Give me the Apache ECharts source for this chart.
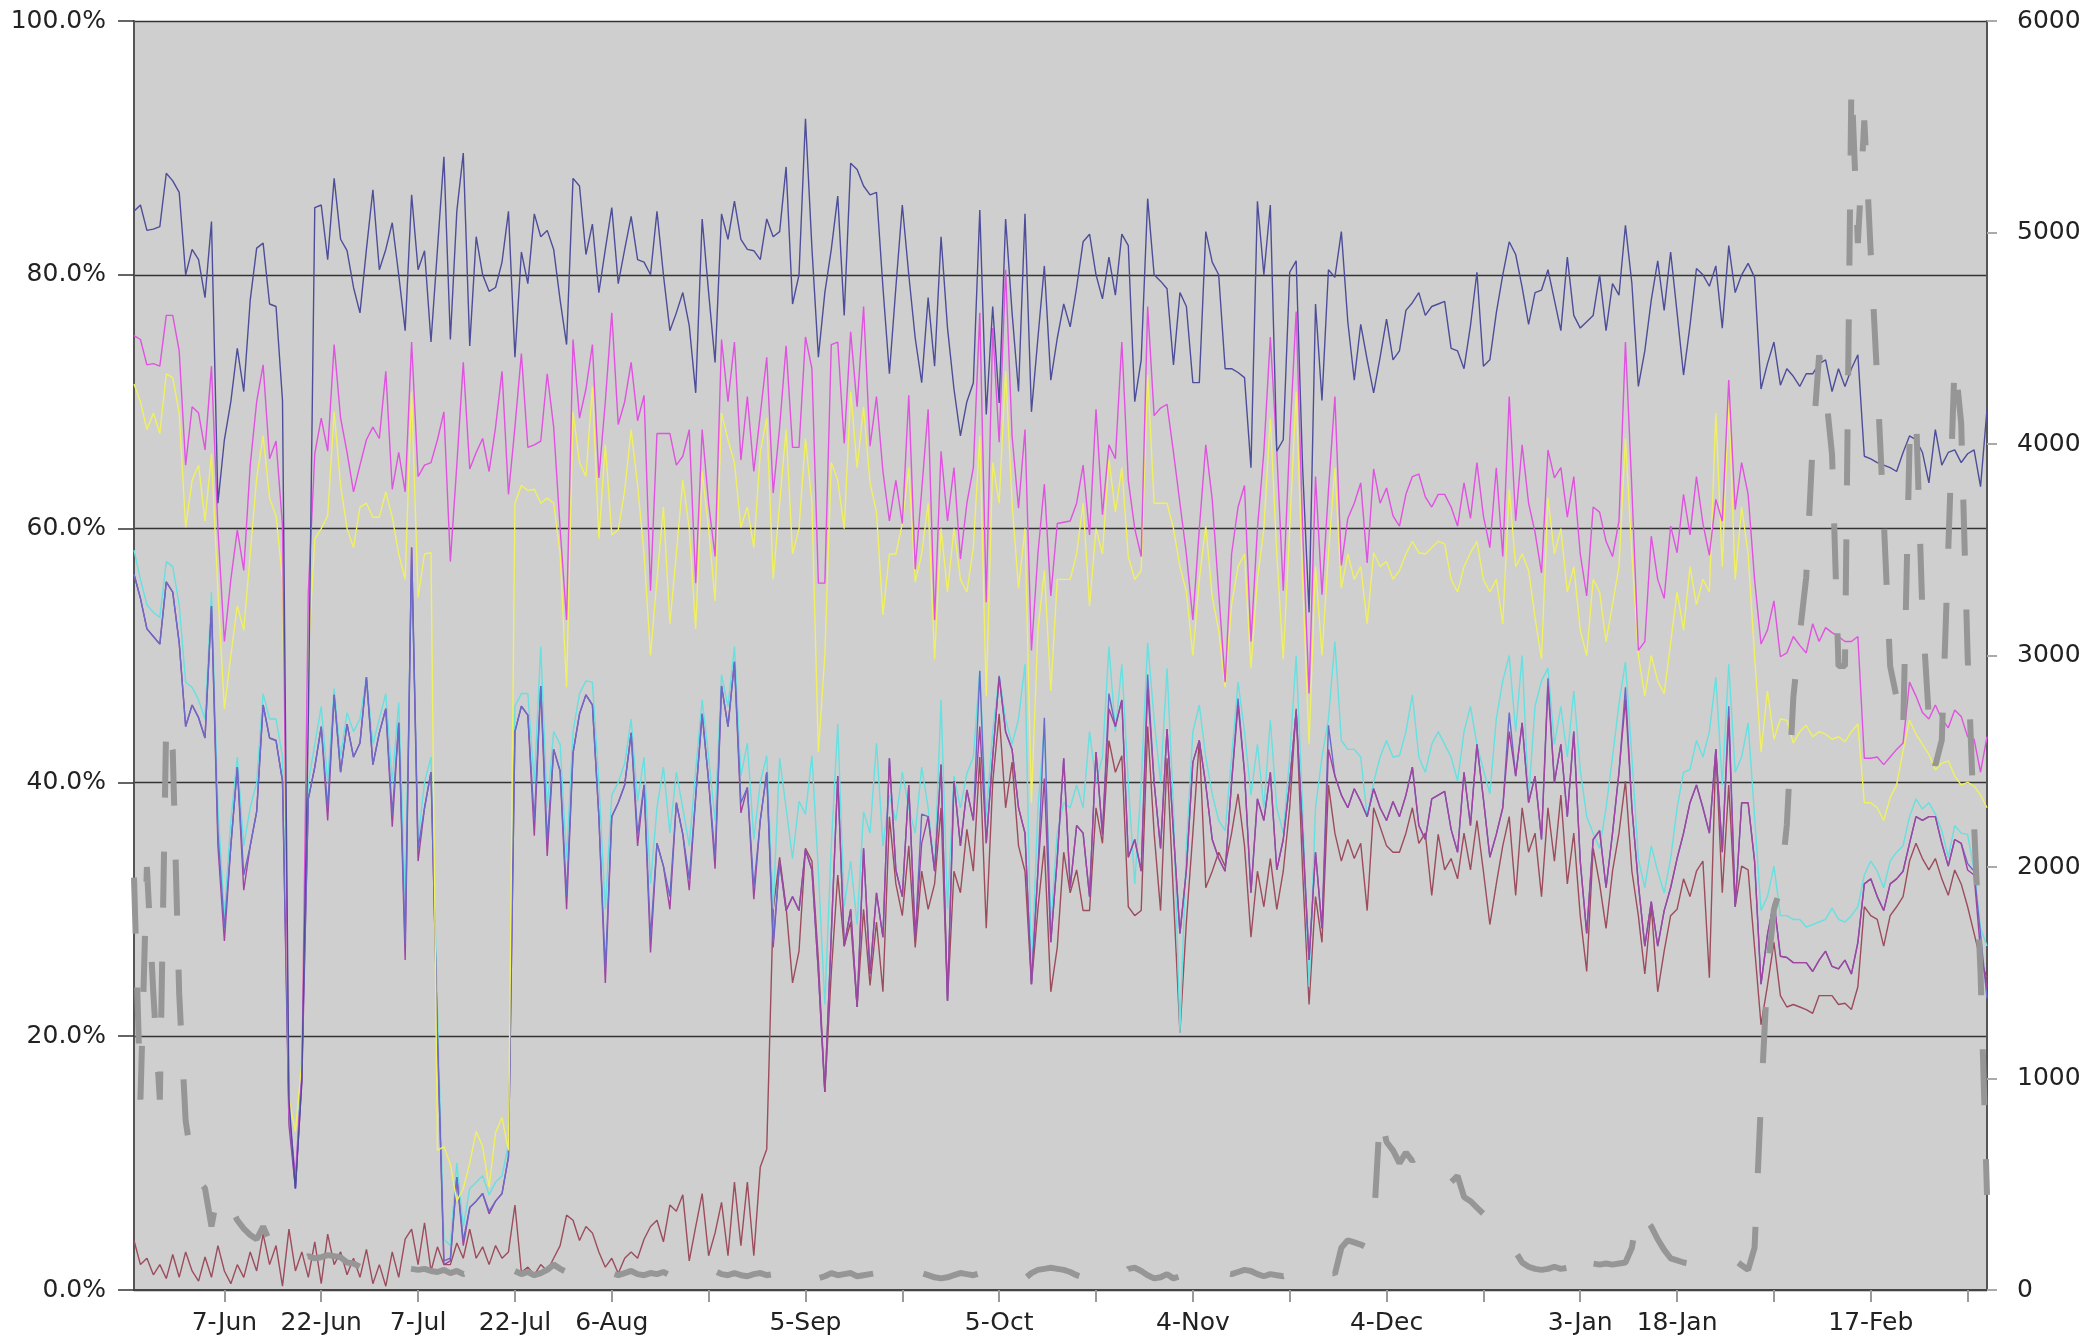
<!DOCTYPE html>
<html><head><meta charset="utf-8">
<script src="https://cdn.jsdelivr.net/npm/echarts@6/dist/echarts.min.js"></script>
<style>html,body{margin:0;padding:0;background:#fff;}#c{width:2085px;height:1343px;}</style>
</head><body><div id="c"></div>
<script>
// Daily dates 24-May .. 7-Mar (non-leap February)
const startDay = {y: 2009, m: 4, d: 24};
const dayCount = 288;
const monthNames = ['Jan','Feb','Mar','Apr','May','Jun','Jul','Aug','Sep','Oct','Nov','Dec'];
const categories = [];
for (let i = 0; i < dayCount; i++) {
  const dt = new Date(Date.UTC(startDay.y, startDay.m, startDay.d + i));
  categories.push(dt.getUTCDate() + '-' + monthNames[dt.getUTCMonth()]);
}
const tickDates = ['7-Jun','22-Jun','7-Jul','22-Jul','6-Aug','21-Aug','5-Sep','20-Sep','5-Oct','20-Oct','4-Nov','19-Nov','4-Dec','19-Dec','3-Jan','18-Jan','2-Feb','17-Feb','4-Mar'];
const tickLabels = ['7-Jun','22-Jun','7-Jul','22-Jul','6-Aug','5-Sep','5-Oct','4-Nov','4-Dec','3-Jan','18-Jan','17-Feb'];
const leftTicks = [0, 20, 40, 60, 80, 100];
const rightTicks = [0, 1000, 2000, 3000, 4000, 5000, 6000];

const navy = [
85.0,85.5,83.5,83.6,83.8,88.0,87.4,86.5,80.0,82.0,
81.2,78.2,84.2,62.0,67.0,70.0,74.2,70.8,78.0,82.1,
82.5,77.7,77.5,70.1,15.0,8.0,16.5,45.0,85.3,85.5,
81.2,87.6,82.8,81.9,79.0,77.0,82.0,86.7,80.4,82.0,
84.1,80.0,75.6,86.3,80.4,81.9,74.7,82.0,89.3,74.9,
85.0,89.6,74.4,83.0,80.0,78.7,79.0,81.0,85.0,73.5,
81.8,79.3,84.8,83.0,83.5,82.0,78.0,74.5,87.6,87.0,
81.6,84.0,78.6,82.0,85.3,79.3,82.0,84.6,81.2,81.0,
80.0,85.0,80.0,75.6,77.0,78.6,76.0,70.7,84.4,78.6,
73.1,84.8,82.8,85.8,82.8,82.0,81.9,81.2,84.4,83.0,
83.4,88.5,77.7,80.0,92.3,82.1,73.5,78.6,82.0,86.2,
76.8,88.8,88.3,87.0,86.3,86.5,79.0,72.2,79.0,85.5,
80.0,75.0,71.5,78.2,72.8,83.0,75.8,71.0,67.3,70.0,
71.5,85.1,69.0,77.5,69.9,84.4,77.0,70.8,84.8,69.2,
75.0,80.7,71.7,75.0,77.7,75.9,79.0,82.6,83.2,80.0,
78.1,81.4,78.4,83.2,82.3,70.0,73.3,86.0,80.0,79.5,
78.9,72.9,78.6,77.5,71.5,71.5,83.4,81.0,80.0,72.6,
72.6,72.3,71.9,64.8,85.8,80.0,85.5,66.1,67.0,80.2,
81.1,64.8,53.4,77.7,70.1,80.4,79.8,83.4,76.3,71.7,
76.1,73.3,70.7,73.5,76.5,73.3,74.0,77.2,77.8,78.6,
76.8,77.5,77.7,77.9,74.2,74.0,72.6,76.0,80.2,72.8,
73.3,77.0,80.0,82.6,81.6,79.0,76.1,78.6,78.8,80.4,
78.0,75.6,81.4,76.8,75.8,76.3,76.8,80.0,75.6,79.3,
78.4,83.9,79.3,71.2,74.0,78.0,81.1,77.2,81.8,77.0,
72.1,76.0,80.5,80.0,79.1,80.7,75.8,82.3,78.6,80.0,
80.9,79.8,71.0,73.0,74.7,71.3,72.6,72.0,71.2,72.2,
72.2,73.0,73.3,70.8,72.6,71.2,72.6,73.7,65.7,65.5,
65.2,65.0,64.8,64.5,66.0,67.3,67.0,66.0,63.6,67.8,
65.0,66.0,66.2,65.2,65.9,66.2,63.3,69.4];

const magenta = [
75.2,74.9,72.9,73.0,72.8,76.8,76.8,74.0,65.0,69.6,
69.1,66.2,72.8,60.0,51.1,56.0,59.9,56.7,65.0,70.0,
72.9,65.5,66.9,60.2,14.0,9.0,17.0,55.0,65.9,68.7,
66.1,74.5,68.7,66.0,62.9,65.0,67.0,68.0,67.1,72.4,
63.1,66.0,62.9,74.7,64.1,65.0,65.2,67.0,69.2,57.4,
65.0,73.1,64.7,66.0,67.1,64.5,68.0,72.4,62.7,68.0,
73.8,66.4,66.6,66.9,72.2,68.0,60.0,52.8,74.9,68.7,
71.0,74.5,64.0,70.0,77.0,68.2,70.0,73.1,68.5,70.5,
55.1,67.5,67.5,67.5,65.0,65.7,67.8,55.7,67.8,62.0,
57.8,74.9,70.0,74.7,65.4,70.4,64.5,69.0,73.5,62.8,
68.0,74.4,66.4,66.4,75.1,72.6,55.7,55.7,74.5,74.7,
66.7,75.5,69.6,77.5,66.5,70.4,64.5,60.6,63.8,60.4,
70.5,56.8,63.0,69.4,52.8,66.1,60.6,64.8,57.6,62.0,
64.8,77.0,54.2,75.8,66.8,80.4,67.3,61.6,67.8,50.4,
58.0,63.5,54.7,60.4,60.5,60.6,62.0,65.0,59.5,69.4,
61.1,66.6,65.5,74.7,63.8,60.0,57.8,77.5,68.9,69.5,
69.8,66.0,62.0,58.0,52.8,60.0,66.6,62.3,55.0,47.9,
58.0,61.7,63.4,51.1,60.0,66.1,75.1,66.1,55.1,67.0,
77.1,60.0,47.0,64.1,54.8,63.0,70.4,57.1,60.8,62.0,
63.6,57.3,64.7,62.0,63.2,61.0,60.2,62.7,64.1,64.3,
62.5,61.7,62.7,62.7,61.7,60.2,63.6,60.8,65.2,61.0,
58.5,64.8,57.8,70.4,60.6,66.6,62.0,59.7,56.5,66.2,
64.0,64.8,60.9,64.1,58.0,54.7,61.7,61.3,59.0,57.8,
60.6,74.7,63.1,50.4,51.1,59.4,56.0,54.5,60.2,58.1,
62.7,59.5,64.1,60.4,57.9,62.3,60.6,71.7,61.5,65.2,
62.7,56.0,50.9,52.0,54.3,49.9,50.2,51.5,50.8,50.2,
52.5,51.1,52.2,51.8,51.5,51.1,51.1,51.5,41.9,41.9,
42.0,41.4,42.0,42.6,43.1,47.9,46.8,45.5,45.0,46.1,
45.0,44.3,45.7,45.2,43.6,43.4,40.8,43.6];

const yellow = [
71.4,70.0,67.8,69.1,67.5,72.2,71.9,69.1,60.1,63.8,
65.0,60.6,65.9,55.0,45.8,50.0,53.9,52.0,58.0,64.0,
67.3,62.4,61.0,56.0,15.0,12.5,18.0,50.0,59.2,60.0,
61.0,69.2,63.4,60.0,58.5,61.7,62.0,60.9,60.9,62.9,
60.9,58.0,56.0,70.8,54.6,58.0,58.1,11.0,11.3,9.9,
7.0,8.0,10.0,12.5,11.3,8.1,12.4,13.6,11.0,62.0,
63.4,63.0,63.1,62.0,62.4,62.0,58.0,47.5,69.2,65.2,
64.1,71.2,59.2,66.6,59.5,59.9,63.0,67.8,63.4,58.0,
50.0,56.0,61.7,52.5,58.0,63.8,60.0,52.1,64.5,60.0,
54.3,69.1,67.0,65.2,60.1,61.7,58.5,66.0,68.7,56.0,
62.0,67.8,58.0,60.0,67.1,62.0,42.4,50.0,65.2,63.8,
60.0,70.8,64.8,69.6,63.6,61.3,53.2,58.0,58.0,60.4,
64.8,55.8,58.0,62.0,49.7,60.0,55.0,60.0,56.0,55.0,
58.5,67.3,46.8,65.2,62.0,72.4,62.0,55.3,60.0,38.4,
52.0,56.7,47.2,56.0,56.0,56.0,58.0,62.0,53.9,60.0,
58.0,65.5,61.3,64.8,57.8,56.0,56.7,72.1,62.0,62.0,
62.0,60.0,57.0,55.0,50.0,56.0,60.2,54.6,52.0,47.5,
54.0,57.0,58.0,49.0,56.0,60.0,68.7,58.0,49.7,60.0,
70.8,56.0,43.0,57.0,50.0,58.0,64.8,55.3,58.0,56.0,
57.0,52.5,58.1,57.0,57.4,56.0,56.7,58.0,59.0,58.1,
58.0,58.5,59.0,58.8,56.0,55.0,57.0,58.1,59.0,56.0,
55.0,56.0,52.5,63.1,57.0,58.0,56.7,53.0,49.7,62.4,
58.0,60.0,55.0,57.0,52.0,50.0,56.0,55.0,51.1,54.0,
57.0,67.1,58.0,50.0,46.8,50.0,48.0,47.0,51.0,55.0,
52.0,57.0,54.0,56.0,55.0,69.1,57.0,70.1,56.0,61.7,
58.0,50.0,42.4,47.2,43.4,45.0,44.9,43.1,44.0,44.5,
43.6,44.0,43.8,43.4,43.6,43.2,44.0,44.6,38.4,38.4,
38.0,37.0,38.8,39.8,42.5,44.9,43.8,43.0,42.2,41.0,
41.5,41.7,40.5,39.8,40.0,39.7,39.0,38.0];

const cyan = [
58.3,56.0,54.0,53.4,53.0,57.4,57.0,54.0,47.9,47.5,
46.5,45.0,55.0,38.0,29.5,37.0,42.0,35.0,38.0,40.0,
47.0,45.0,45.0,42.0,14.5,8.0,18.5,40.0,43.0,46.0,
40.0,47.4,42.0,45.5,44.0,45.0,48.3,43.0,45.0,47.0,
40.0,46.3,31.0,57.0,35.5,40.0,42.0,22.0,4.0,3.5,
10.0,5.0,8.0,8.5,9.0,7.5,8.5,9.0,11.5,46.0,
47.0,47.0,40.0,50.7,38.0,44.0,43.0,34.0,44.0,47.0,
48.0,47.9,40.0,30.0,39.0,40.0,41.5,45.0,38.5,42.0,
32.0,38.0,41.2,36.0,40.8,38.0,35.0,41.0,46.5,42.0,
37.0,48.5,46.0,50.7,40.5,43.1,35.5,40.0,42.1,30.0,
41.9,38.0,34.0,38.5,37.5,42.1,33.0,22.5,35.0,44.6,
30.2,33.8,28.8,37.7,36.0,43.1,35.0,39.0,37.0,40.8,
38.0,36.0,41.2,38.0,33.1,46.5,30.0,40.5,38.0,40.7,
42.0,48.8,37.3,44.0,48.4,45.0,43.0,45.0,49.3,24.6,
38.0,44.4,28.8,36.0,38.4,38.0,39.8,38.0,44.0,40.0,
42.0,50.7,44.0,49.3,40.0,32.0,40.0,51.0,45.0,40.0,
49.0,38.0,20.3,35.0,44.0,46.1,42.0,39.1,37.0,36.2,
42.0,47.9,44.0,39.0,43.0,38.0,44.9,38.0,36.0,42.0,
50.0,38.0,23.9,38.0,42.0,45.0,51.1,43.3,42.6,42.6,
42.0,37.3,40.0,42.0,43.3,42.0,42.1,44.0,46.9,42.0,
40.8,43.0,44.0,43.0,42.0,40.1,44.0,46.0,43.0,41.0,
39.1,45.0,48.0,50.0,44.0,50.0,38.7,46.0,48.0,49.0,
43.0,46.0,42.0,47.2,41.0,37.3,36.0,34.8,38.0,42.0,
46.2,49.5,42.0,34.0,31.7,35.0,33.0,31.3,34.0,38.0,
40.8,41.0,43.3,42.0,44.0,48.3,39.8,49.3,40.8,42.0,
44.7,37.3,29.9,31.0,33.4,29.5,29.5,29.2,29.2,28.6,
28.8,29.0,29.2,30.1,29.2,29.0,29.5,30.2,32.7,33.8,
33.0,31.7,33.8,34.5,35.0,37.3,38.7,37.9,38.4,37.5,
36.2,34.1,36.6,36.0,35.9,33.1,28.5,27.1];

const blue = [
56.4,54.5,52.1,51.5,50.9,55.8,55.0,51.0,44.4,46.1,
45.1,43.5,53.9,36.0,28.5,35.0,41.2,32.7,35.0,37.7,
46.1,43.5,43.3,40.1,14.0,8.0,17.5,38.7,41.2,44.4,
38.0,46.9,40.8,44.6,42.0,43.1,48.3,41.4,43.9,45.8,
37.5,44.7,27.2,58.5,34.8,38.0,40.8,20.0,2.3,2.5,
8.9,3.9,6.5,7.0,7.6,6.2,7.0,7.6,10.5,44.0,
46.0,45.3,37.0,47.6,35.4,42.6,40.9,31.1,42.3,45.4,
46.9,46.1,37.3,25.3,37.3,38.4,39.8,43.9,35.9,39.8,
27.8,35.2,33.4,31.0,38.4,35.9,32.4,38.9,45.4,40.1,
34.1,47.6,44.4,49.5,38.4,39.6,31.7,37.0,40.8,27.4,
33.8,29.9,31.0,29.9,34.7,33.1,25.0,15.6,28.0,40.5,
27.1,30.0,22.3,34.8,24.9,31.3,27.8,41.9,33.1,31.0,
39.8,27.8,37.5,37.3,33.0,41.4,22.8,40.1,35.0,39.4,
37.0,48.8,35.2,42.0,48.4,44.0,42.6,38.0,36.0,24.1,
33.0,45.1,27.4,34.0,41.9,31.7,36.6,36.0,31.0,42.4,
35.9,47.0,44.4,46.5,34.1,35.5,33.0,48.5,40.0,34.8,
44.2,36.0,28.1,33.1,41.6,43.3,39.8,35.5,34.0,33.0,
40.0,46.6,40.8,31.3,38.7,37.0,40.8,33.1,35.5,40.0,
45.6,36.0,26.0,34.5,28.5,44.5,40.5,39.0,38.0,39.5,
38.5,37.3,39.5,38.0,37.0,38.5,37.3,39.0,41.2,36.6,
35.5,38.7,39.0,39.3,36.3,34.5,40.8,36.6,43.0,38.7,
34.1,35.9,38.0,45.5,40.5,44.7,38.4,40.5,35.5,48.2,
40.0,43.0,37.3,44.0,33.8,28.1,35.5,36.2,31.7,36.0,
40.8,47.5,38.0,32.0,27.1,30.6,27.1,29.9,31.7,34.0,
36.0,38.4,39.8,38.0,36.0,42.6,34.5,46.0,30.2,38.4,
38.4,33.8,24.1,28.0,30.6,26.3,26.2,25.8,25.8,25.8,
25.1,26.0,26.7,25.5,25.3,26.0,24.9,27.4,32.0,32.4,
31.0,29.9,32.0,32.4,33.0,35.2,37.3,37.0,37.3,37.3,
35.2,33.4,35.5,35.2,33.6,33.0,28.0,23.0];

const purple = [
56.4,54.5,52.1,51.5,50.9,55.8,55.0,51.0,44.4,46.1,
45.1,43.5,53.9,35.0,27.5,35.0,41.2,31.5,35.0,37.7,
46.1,43.5,43.3,40.1,13.0,8.0,16.5,38.7,41.2,44.4,
37.0,46.9,40.8,44.6,42.0,43.1,48.3,41.4,43.9,45.8,
36.5,44.7,26.0,58.5,33.8,38.0,40.8,20.0,2.0,2.3,
8.9,3.5,6.5,7.0,7.6,6.0,7.0,7.6,10.5,44.0,
46.0,45.3,35.8,47.6,34.2,42.6,40.9,30.0,42.3,45.4,
46.9,46.1,37.3,24.2,37.3,38.4,39.8,43.9,35.0,39.8,
26.6,35.2,33.4,30.0,38.4,35.9,31.5,38.9,45.4,40.1,
33.2,47.6,44.4,49.5,37.6,39.6,30.8,37.0,40.8,27.0,
33.8,29.9,31.0,29.9,34.7,33.1,25.0,15.6,28.0,40.5,
27.1,30.0,22.3,34.8,24.9,31.3,27.8,41.9,33.1,31.0,
39.8,27.8,35.2,37.3,33.0,41.4,22.8,40.1,35.0,39.4,
37.0,44.4,35.2,42.0,48.3,44.0,42.6,38.0,36.0,24.1,
33.0,40.3,27.4,34.0,41.9,31.7,36.6,36.0,31.0,42.4,
35.9,45.8,44.4,46.5,34.1,35.5,33.0,47.4,40.0,34.8,
44.2,36.0,28.1,33.1,41.6,43.3,39.8,35.5,34.0,33.0,
40.0,46.1,40.8,31.3,38.7,37.0,40.8,33.1,35.5,40.0,
45.6,36.0,26.0,34.5,28.5,42.6,40.5,39.0,38.0,39.5,
38.5,37.3,39.5,38.0,37.0,38.5,37.3,39.0,41.2,36.6,
35.5,38.7,39.0,39.3,36.3,34.5,40.8,36.6,43.0,38.7,
34.1,35.9,38.0,44.0,40.5,44.7,38.4,40.5,35.5,47.6,
40.0,43.0,37.3,44.0,33.8,28.1,35.5,36.2,31.7,36.0,
40.8,46.5,38.0,32.0,27.1,30.6,27.1,29.9,31.7,34.0,
36.0,38.4,39.8,38.0,36.0,42.6,34.5,45.1,30.2,38.4,
38.4,33.8,24.1,28.0,30.6,26.3,26.2,25.8,25.8,25.8,
25.1,26.0,26.7,25.5,25.3,26.0,24.9,27.4,32.0,32.4,
31.0,29.9,32.0,32.4,33.0,35.2,37.3,37.0,37.3,37.3,
35.2,33.4,35.5,35.2,33.1,32.7,26.7,23.9];

const brown = [
3.9,2.0,2.5,1.2,2.0,0.9,2.8,1.0,3.0,1.5,
0.7,2.6,1.0,3.5,1.5,0.5,2.0,1.0,3.0,1.5,
4.4,2.0,3.5,0.3,4.8,1.5,3.0,1.0,3.8,0.5,
4.4,2.0,3.0,1.2,2.5,1.0,3.2,0.5,2.0,0.3,
3.0,1.0,4.0,4.8,2.0,5.3,1.5,3.4,2.0,2.0,
3.7,2.5,4.8,2.5,3.4,2.0,3.5,2.5,3.0,6.7,
1.4,1.8,1.2,2.0,1.5,2.5,3.5,5.9,5.5,3.9,
5.0,4.5,3.0,1.8,2.5,1.3,2.5,3.0,2.5,4.0,
5.0,5.5,3.8,6.7,6.2,7.5,2.3,5.0,7.6,2.7,
4.5,6.9,2.7,8.5,3.5,8.5,2.7,9.7,11.1,30.0,
34.1,30.2,24.2,26.7,34.8,33.8,26.0,15.6,25.0,32.7,
27.1,29.0,22.3,30.0,24.0,29.0,23.5,37.3,32.0,29.5,
35.0,27.0,33.0,30.0,32.0,38.0,22.8,33.0,31.3,36.3,
33.0,42.0,28.5,40.0,45.4,38.0,41.6,35.0,33.0,24.1,
30.0,35.0,23.5,27.0,34.5,31.3,33.1,29.9,29.9,38.0,
35.2,43.3,40.8,42.1,30.2,29.5,29.9,44.4,36.0,29.9,
41.9,31.0,20.3,29.0,36.0,43.3,31.7,33.0,34.5,33.4,
36.0,39.1,35.0,27.8,33.0,30.2,34.0,30.0,33.0,38.0,
45.8,33.0,22.5,31.0,27.4,39.8,36.0,33.8,35.5,34.0,
35.2,29.9,38.0,36.5,35.0,34.5,34.5,36.0,38.0,35.2,
36.0,31.1,35.9,33.1,34.0,32.4,36.0,33.1,37.0,33.0,
28.8,32.0,35.0,37.3,31.1,38.0,34.5,36.0,31.0,38.0,
33.8,39.0,32.0,36.0,29.5,25.1,34.8,32.0,28.5,33.0,
36.0,40.1,33.0,29.5,24.9,30.2,23.5,26.7,29.5,30.0,
32.4,31.0,33.0,33.8,24.6,42.6,31.3,39.8,30.2,33.4,
33.1,27.0,20.9,24.0,27.4,23.2,22.3,22.5,22.3,22.1,
21.8,23.2,23.2,23.2,22.5,22.6,22.1,23.9,30.2,29.5,
29.2,27.1,29.5,30.2,31.0,33.8,35.2,34.0,33.1,34.0,
32.4,31.1,33.1,32.0,30.2,28.1,26.0,24.6];

const volume = [
1950,900,2000,1400,900,2700,2550,1400,800,600,
520,480,300,470,430,390,330,290,260,240,
300,230,180,150,135,130,145,160,150,155,
165,160,155,130,125,110,105,100,95,105,
125,115,105,100,95,100,90,85,95,80,
90,75,85,95,80,75,85,70,80,90,
75,85,70,80,95,120,100,85,95,110,
100,85,75,90,80,70,80,90,75,70,
80,75,85,70,60,80,95,85,70,80,
90,75,70,80,70,65,75,80,70,75,
80,70,55,75,90,70,55,65,80,70,
75,80,65,70,75,80,70,55,60,80,
95,90,80,70,60,55,60,70,80,75,
70,80,70,65,75,70,50,35,55,80,
95,100,105,100,95,85,70,60,55,70,
80,70,55,75,100,105,90,70,55,60,
75,55,65,80,90,80,70,75,85,80,
75,85,95,90,75,65,75,70,65,75,
85,80,70,75,90,100,75,200,235,225,
215,200,300,840,700,660,600,650,610,640,
620,630,600,560,510,540,440,420,390,360,
340,300,260,220,180,130,110,100,95,100,
110,100,105,200,215,140,125,120,125,120,
125,130,200,390,340,300,240,190,150,140,
130,125,120,130,140,150,150,148,140,117,
95,200,900,1500,1800,1900,2200,2800,3100,3370,
4000,4420,4250,3950,2950,2950,5720,4950,5530,4900,
4300,3650,2950,2800,2630,4000,4150,3200,2700,2480,
2600,3500,4400,4100,3000,2200,1500,450];

const blueEarly = blue.map((v, i) => i <= 100 ? v : null);
const blueLate = blue.map((v, i) => i >= 100 ? v : null);

const FONT = 'DejaVu Sans';
const FS = 25;
const thin = (name, data, color) => ({
  name, type: 'line', data, yAxisIndex: 0, showSymbol: false, symbol: 'none',
  lineStyle: { color, width: 1.4 }, itemStyle: { color }, silent: true, connectNulls: false
});

const chart = echarts.init(document.getElementById('c'), null, { renderer: 'canvas' });
chart.setOption({
  animation: false,
  backgroundColor: '#ffffff',
  grid: { left: 134, right: 98, top: 21, bottom: 53, show: true, backgroundColor: '#cfcfcf', borderWidth: 0 },
  xAxis: {
    type: 'category', data: categories, boundaryGap: false,
    axisLine: { show: true, lineStyle: { color: '#444', width: 2 } },
    axisTick: { show: true, length: 12, lineStyle: { color: '#9a9a9a', width: 2 },
      interval: (i, v) => tickDates.includes(v) },
    axisLabel: { show: true, margin: 21, color: '#222', fontSize: FS, fontFamily: FONT,
      interval: (i, v) => tickLabels.includes(v) },
    splitLine: { show: false }
  },
  yAxis: [
    { type: 'value', position: 'left', min: leftTicks[0], max: leftTicks[leftTicks.length - 1], interval: 20,
      axisLine: { show: true, lineStyle: { color: '#555', width: 2 } },
      axisTick: { show: true, length: 16, lineStyle: { color: '#333', width: 1.5 } },
      axisLabel: { margin: 28, color: '#222', fontSize: FS, fontFamily: FONT,
        formatter: v => v.toFixed(1) + '%' },
      splitLine: { show: true, lineStyle: { color: '#333', width: 1.4 } } },
    { type: 'value', position: 'right', min: rightTicks[0], max: rightTicks[rightTicks.length - 1], interval: 1000,
      axisLine: { show: true, lineStyle: { color: '#555', width: 2 } },
      axisTick: { show: true, length: 10, lineStyle: { color: '#aaa', width: 2 } },
      axisLabel: { margin: 30, color: '#222', fontSize: FS, fontFamily: FONT,
        formatter: v => String(v) },
      splitLine: { show: false } }
  ],
  series: [
    thin('brown', brown, '#9c4c5c'),
    thin('cyan', cyan, '#66e0e0'),
    thin('blueLate', blueLate, '#6a6ac8'),
    thin('purple', purple, '#a044a0'),
    thin('blueEarly', blueEarly, '#6a6ac8'),
    thin('yellow', yellow, '#f0f060'),
    thin('magenta', magenta, '#e052e0'),
    thin('navy', navy, '#4d4d99'),
    { name: 'volume', type: 'line', data: volume, yAxisIndex: 1, showSymbol: false, symbol: 'none', silent: true,
      lineStyle: { color: '#969696', width: 6, type: [56, 54], cap: 'butt' } }
  ]
});
</script>
</body></html>
